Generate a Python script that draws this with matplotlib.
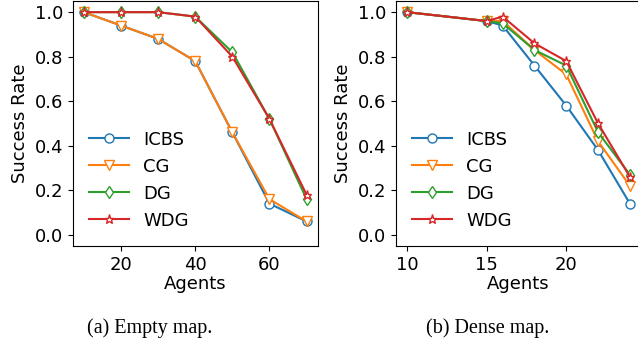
import matplotlib
matplotlib.use('Agg')
import matplotlib.pyplot as plt

# 데이터
empty_agents = [10, 20, 30, 40, 50, 60, 70]
empty_icbs = [1.0, 0.94, 0.88, 0.78, 0.46, 0.14, 0.06]
empty_cg = [1.0, 0.94, 0.88, 0.78, 0.46, 0.16, 0.06]
empty_dg = [1.0, 1.0, 1.0, 0.98, 0.82, 0.52, 0.16]
empty_wdg = [1.0, 1.0, 1.0, 0.98, 0.80, 0.52, 0.18]

dense_agents = [10, 15, 16, 18, 20, 22, 24]
dense_icbs = [1.0, 0.96, 0.94, 0.76, 0.58, 0.38, 0.14]
dense_cg = [1.0, 0.96, 0.96, 0.83, 0.72, 0.42, 0.22]
dense_dg = [1.0, 0.96, 0.95, 0.83, 0.76, 0.46, 0.27]
dense_wdg = [1.0, 0.96, 0.98, 0.86, 0.78, 0.50, 0.26]

labels = ['ICBS', 'CG', 'DG', 'WDG']
markers = ['o', 'v', 'd', '*']
colors = ['#1f77b4', '#ff7f0e', '#2ca02c', '#d62728']

plt.rcParams['font.family'] = ['DejaVu Sans']
plt.rcParams['font.size'] = 13

fig = plt.figure(figsize=(6.38, 3.43), dpi=100)
ax1 = fig.add_axes([0.1140, 0.283, 0.384, 0.714])
ax2 = fig.add_axes([0.6208, 0.283, 0.384, 0.714])


def draw(ax, x, series):
    for y, lab, m, c in zip(series, labels, markers, colors):
        ax.plot(x, y, marker=m, color=c, label=lab, linewidth=1.5,
                markersize=6.5, markerfacecolor='white', markeredgecolor=c)
    ax.set_ylim(-0.05, 1.05)
    ax.set_yticks([0.0, 0.2, 0.4, 0.6, 0.8, 1.0])
    ax.set_xlabel('Agents', labelpad=1)
    ax.set_ylabel('Success Rate')
    ax.legend(loc='lower left', frameon=False, handlelength=2.2)


draw(ax1, empty_agents, [empty_icbs, empty_cg, empty_dg, empty_wdg])
ax1.set_xticks([20, 40, 60])
draw(ax2, dense_agents, [dense_icbs, dense_cg, dense_dg, dense_wdg])
ax2.set_xticks([10, 15, 20])

# 캡션
fig.text(150 / 638, 1 - 333 / 343, '(a) Empty map.', ha='center', va='baseline',
         family='Liberation Serif', fontsize=14.5)
fig.text(488 / 638, 1 - 333 / 343, '(b) Dense map.', ha='center', va='baseline',
         family='Liberation Serif', fontsize=14.5)

fig.savefig('out.png', dpi=100)
